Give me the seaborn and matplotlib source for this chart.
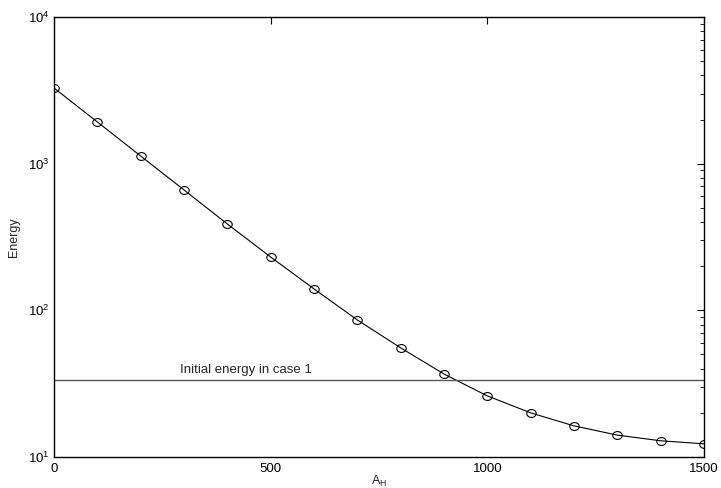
import matplotlib
matplotlib.use("Agg")
import matplotlib.pyplot as plt
import seaborn as sns
import pandas as pd
from matplotlib.path import Path
from matplotlib.transforms import Affine2D
from matplotlib.ticker import LogLocator, NullFormatter, FixedLocator

a_h = [0, 100, 200, 300, 400, 500, 600, 700, 800, 900, 1000, 1100, 1200, 1300, 1400, 1500]
energy = [3280, 1925, 1128, 662, 388, 231, 140, 86, 55.5, 36.8, 26.1, 20.0, 16.3, 14.1, 12.9, 12.3]
initial_energy = 33.6
x_ticks = [0, 500, 1000, 1500]

sns.set_theme(style="white")
plt.rcParams['font.family'] = ['Liberation Sans', 'DejaVu Sans']
plt.rcParams['mathtext.fontset'] = 'custom'
plt.rcParams['mathtext.rm'] = 'Liberation Sans'
plt.rcParams['mathtext.it'] = 'Liberation Sans'
plt.rcParams['mathtext.default'] = 'regular'

ellipse = Path.unit_circle().transformed(Affine2D().scale(1.2, 1.0))

fig = plt.figure(figsize=(7.21, 4.88), dpi=100)
ax = fig.add_axes([54/721, 1-457/488, 650/721, 440/488])

df = pd.DataFrame({"A_H": a_h, "Energy": energy})
sns.lineplot(data=df, x="A_H", y="Energy", ax=ax, color="black", linewidth=0.8,
             marker=ellipse, markersize=6.8, markerfacecolor="none", markeredgecolor="black",
             markeredgewidth=0.8)
ax.axhline(initial_energy, color="#555555", linewidth=1.0)
ax.text(290, initial_energy * 1.06, "Initial energy in case 1", fontsize=9.5, va="bottom", ha="left")

ax.set_yscale("log")
ax.set_xlim(0, 1500)
ax.set_ylim(10, 10000)
ax.xaxis.set_major_locator(FixedLocator(x_ticks))
ax.yaxis.set_major_locator(LogLocator(base=10, numticks=10))
ax.yaxis.set_minor_locator(LogLocator(base=10, subs=range(2, 10), numticks=20))
ax.yaxis.set_minor_formatter(NullFormatter())

for s in ax.spines.values():
    s.set_color("black")
    s.set_linewidth(1.0)
ax.tick_params(axis="both", which="both", direction="in", top=True, right=True,
               labelsize=9.5, colors="black", pad=3)
ax.tick_params(axis="both", which="major", length=5, width=0.8)
ax.tick_params(axis="y", which="minor", length=3, width=0.6)
ax.tick_params(axis="x", which="major", pad=4)

ax.set_xlabel("$A_H$", fontsize=9, labelpad=-0.5)
ax.set_ylabel("Energy", fontsize=9, labelpad=6)

fig.savefig("out.png", dpi=100)
